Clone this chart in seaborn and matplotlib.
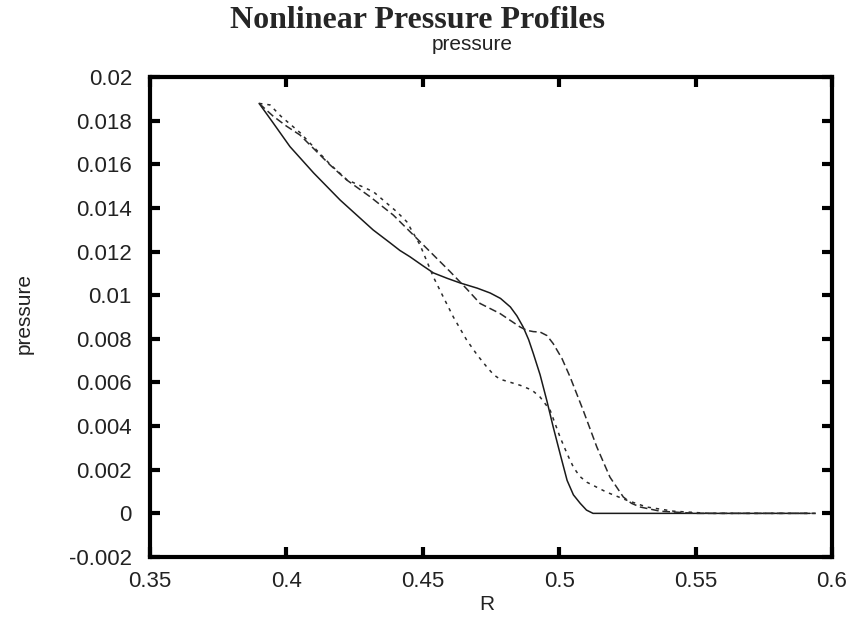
import numpy as np
import pandas as pd
import matplotlib
matplotlib.use("Agg")
import matplotlib.pyplot as plt
import seaborn as sns

# ---- data ----
r_solid = [0.390, 0.395, 0.4013, 0.410, 0.4197, 0.4318, 0.4380, 0.4416, 0.4453, 0.4500, 0.4539,
           0.4590, 0.4637, 0.4700, 0.4747, 0.4785, 0.4821, 0.4845, 0.4868, 0.4888, 0.4905,
           0.4930, 0.4955, 0.4978, 0.5005, 0.5029, 0.5052, 0.5077, 0.5100,
           0.5124, 0.530, 0.560, 0.592]
p_solid = [0.01879, 0.01792, 0.01681, 0.01560, 0.01436, 0.01299, 0.01240, 0.01205, 0.01176, 0.01135, 0.01102,
           0.01077, 0.01056, 0.01032, 0.01010, 0.00985, 0.00946, 0.00905, 0.00854, 0.00796, 0.00733,
           0.00635, 0.00515, 0.00396, 0.00265, 0.00151, 0.00085, 0.00046, 0.00015,
           0.0, 0.0, 0.0, 0.0]

r_dashed = [0.390, 0.395, 0.400, 0.405, 0.416, 0.4221, 0.4306, 0.4392, 0.4470, 0.4551, 0.4600,
            0.4660, 0.4710, 0.4783, 0.4857, 0.4881, 0.4905, 0.4930, 0.4955, 0.4978, 0.5010,
            0.5040, 0.5088, 0.5138, 0.5186, 0.5235, 0.5265, 0.5297, 0.537, 0.550, 0.575, 0.594]
p_dashed = [0.01879, 0.01822, 0.01775, 0.01734, 0.01597, 0.01528, 0.01452, 0.01367, 0.01270, 0.01169, 0.01108,
            0.01030, 0.00962, 0.00916, 0.00854, 0.00839, 0.00833, 0.00831, 0.00815, 0.00778, 0.00710,
            0.00625, 0.00472, 0.00304, 0.00166, 0.00075, 0.00046, 0.00029, 0.00010, 0.0, 0.0, 0.0]

r_dotted = [0.390, 0.394, 0.398, 0.405, 0.416, 0.4221, 0.4319, 0.4404, 0.4441, 0.4490,
            0.4539, 0.4575, 0.4612, 0.4661, 0.4700, 0.4734, 0.4760, 0.4783, 0.4857, 0.4900,
            0.4930, 0.4967, 0.5003, 0.5030, 0.5052, 0.5075, 0.5101, 0.5174, 0.5248, 0.5321,
            0.5419, 0.555, 0.575, 0.594]
p_dotted = [0.01879, 0.01872, 0.01820, 0.01745, 0.01600, 0.01530, 0.01474, 0.01383, 0.01337, 0.01230,
            0.01083, 0.00992, 0.00900, 0.00794, 0.00725, 0.00672, 0.00635, 0.00615, 0.00587, 0.00565,
            0.00533, 0.00472, 0.00350, 0.00270, 0.00212, 0.00170, 0.00143, 0.00097, 0.00060, 0.00029,
            0.00010, 0.0, 0.0, 0.0]

x_ticks = [0.35, 0.4, 0.45, 0.5, 0.55, 0.6]
x_ticklabels = ["0.35", "0.4", "0.45", "0.5", "0.55", "0.6"]
y_ticks = [0.02, 0.018, 0.016, 0.014, 0.012, 0.01, 0.008, 0.006, 0.004, 0.002, 0.0, -0.002]
y_ticklabels = ["0.02", "0.018", "0.016", "0.014", "0.012", "0.01", "0.008", "0.006",
                "0.004", "0.002", "0", "-0.002"]

df = pd.concat([
    pd.DataFrame({"R": r_solid, "pressure": p_solid, "profile": "a"}),
    pd.DataFrame({"R": r_dashed, "pressure": p_dashed, "profile": "b"}),
    pd.DataFrame({"R": r_dotted, "pressure": p_dotted, "profile": "c"}),
], ignore_index=True)

sns.set_style("ticks")
plt.rcParams["font.family"] = ["Liberation Sans", "DejaVu Sans"]

fig = plt.figure(figsize=(8.54, 6.31), dpi=100)
ax = fig.add_axes([150 / 854, 1 - 557 / 631, (832 - 150) / 854, (557 - 77) / 631])

sns.lineplot(data=df, x="R", y="pressure", hue="profile", style="profile",
             palette={"a": "#1a1a1a", "b": "#2a2a2a", "c": "#2a2a2a"},
             dashes={"a": "", "b": (5, 2.5), "c": (2.2, 3.2)},
             linewidth=1.1, legend=False, ax=ax, sort=False, estimator=None)

ax.set_xlim(0.35, 0.6)
ax.set_ylim(-0.002, 0.02)
ax.set_xticks(x_ticks)
ax.set_xticklabels(x_ticklabels)
ax.set_yticks(y_ticks)
ax.set_yticklabels(y_ticklabels)
ax.set_xlabel("")
ax.set_ylabel("")

for s in ax.spines.values():
    s.set_visible(True)
    s.set_linewidth(3.0)
    s.set_color("black")

ax.tick_params(axis="both", which="both", direction="in", length=7, width=3,
               top=True, right=True, labelsize=16, colors="black", labelcolor="#222222")
ax.tick_params(axis="y", pad=13)
ax.tick_params(axis="x", pad=10)

fig.text(418 / 854, 1 - 20 / 631, "Nonlinear Pressure Profiles",
         family=["Liberation Serif", "DejaVu Serif"], weight="bold", fontsize=23,
         ha="center", va="center")
fig.text(472 / 854, 1 - 45 / 631, "pressure", fontsize=15, ha="center", va="center",
         color="#222222")
fig.text(487 / 854, 1 - 605 / 631, "R", fontsize=15, ha="center", va="center",
         color="#222222")
fig.text(24 / 854, 1 - 313 / 631, "pressure", fontsize=15, ha="center", va="center",
         rotation=90, color="#222222")

fig.savefig("out.png", dpi=100)
